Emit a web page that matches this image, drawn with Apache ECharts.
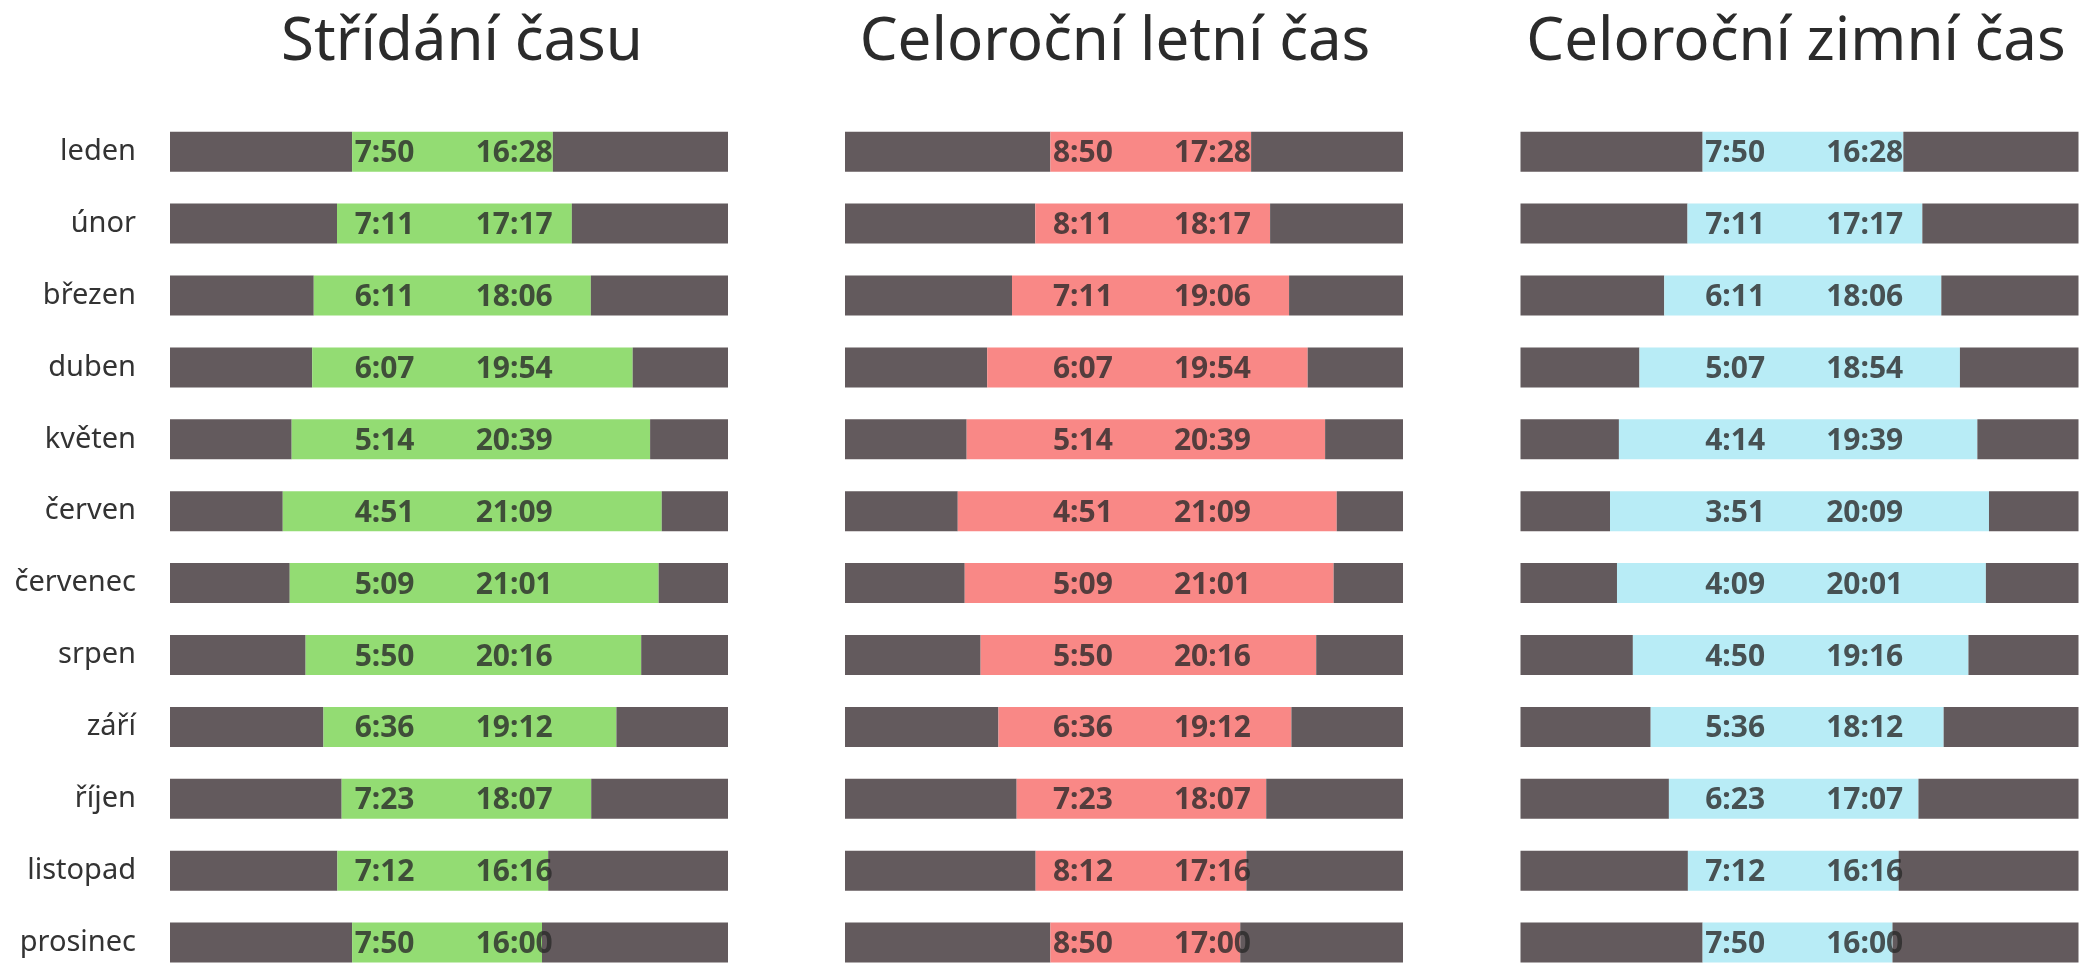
<!DOCTYPE html>
<html>
<head>
<meta charset="utf-8">
<title>Východ a západ slunce</title>
<script src="https://cdn.jsdelivr.net/npm/echarts@6/dist/echarts.min.js"></script>
<style>
    html, body { margin: 0; padding: 0; background: #fff; }
    #chart { width: 2080px; height: 964px; }
</style>
</head>
<body>
<div id="chart"></div>
<script>
// měsíce
const months = ['leden', 'únor', 'březen', 'duben', 'květen', 'červen',
    'červenec', 'srpen', 'září', 'říjen', 'listopad', 'prosinec']

const panelTitles = ['Střídání času', 'Celoroční letní čas', 'Celoroční zimní čas']

// střídání času
const stridaniRise = ['7:50', '7:11', '6:11', '6:07', '5:14', '4:51', '5:09', '5:50', '6:36', '7:23', '7:12', '7:50']
const stridaniSet = ['16:28', '17:17', '18:06', '19:54', '20:39', '21:09', '21:01', '20:16', '19:12', '18:07', '16:16', '16:00']

// celoroční letní čas
const letniRise = ['8:50', '8:11', '7:11', '6:07', '5:14', '4:51', '5:09', '5:50', '6:36', '7:23', '8:12', '8:50']
const letniSet = ['17:28', '18:17', '19:06', '19:54', '20:39', '21:09', '21:01', '20:16', '19:12', '18:07', '17:16', '17:00']

// celoroční zimní čas
const zimniRise = ['7:50', '7:11', '6:11', '5:07', '4:14', '3:51', '4:09', '4:50', '5:36', '6:23', '7:12', '7:50']
const zimniSet = ['16:28', '17:17', '18:06', '18:54', '19:39', '20:09', '20:01', '19:16', '18:12', '17:07', '16:16', '16:00']

const panelColors = ['#93dc73', '#f98886', '#b8ecf6']
const nightColor = '#635a5d'

const panels = [
    { rise: stridaniRise, set: stridaniSet },
    { rise: letniRise, set: letniSet },
    { rise: zimniRise, set: zimniSet }
]

const toHours = (s) => {
    const [h, m] = s.split(':').map(Number)
    return h + m / 60
}

const gridLeft = [170, 845, 1520.5]
const gridWidth = 558
const titleCenter = [457, 1110, 1791]

const grids = []
const xAxes = []
const yAxes = []
const series = []
const titles = []

panels.forEach((p, k) => {
    const rise = p.rise.map(toHours)
    const set = p.set.map(toHours)
    const anchor = Math.max(...rise)

    grids.push({ left: gridLeft[k], width: gridWidth, top: 115.75, height: 862.8, outerBoundsMode: 'none' })
    xAxes.push({
        type: 'value', gridIndex: k, min: 0, max: 24,
        show: false
    })
    yAxes.push({
        type: 'category', gridIndex: k, data: months, inverse: true,
        axisLine: { show: false },
        axisTick: { show: false },
        splitLine: { show: false },
        axisLabel: {
            show: k === 0,
            margin: 34,
            fontSize: 29,
            color: '#333',
            fontFamily: 'Noto Sans',
            padding: [5, 0, 0, 0]
        }
    })

    const common = {
        type: 'bar', xAxisIndex: k, yAxisIndex: k, stack: 'den' + k,
        barWidth: 40, silent: true
    }
    series.push({ ...common, name: 'noc ráno', data: rise, itemStyle: { color: nightColor } })
    series.push({ ...common, name: 'den', data: set.map((v, i) => v - rise[i]), itemStyle: { color: panelColors[k] } })
    series.push({ ...common, name: 'noc večer', data: set.map(v => 24 - v), itemStyle: { color: nightColor } })

    // popisky časů
    series.push({
        type: 'scatter', xAxisIndex: k, yAxisIndex: k,
        symbolSize: 1, silent: true,
        itemStyle: { color: 'transparent' },
        data: months.map((m, i) => [anchor, i]),
        label: {
            show: true,
            position: 'right',
            distance: 2,
            padding: [4, 0, 0, 0],
            formatter: (params) => `{r|${p.rise[params.dataIndex]}}{s|${p.set[params.dataIndex]}}`,
            rich: {
                r: { width: 121, fontSize: 30, fontWeight: 'bold', color: '#2b2b2b', fontFamily: 'Noto Sans' },
                s: { fontSize: 30, fontWeight: 'bold', color: '#2b2b2b', fontFamily: 'Noto Sans' }
            }
        }
    })

    titles.push({
        text: panelTitles[k],
        left: titleCenter[k],
        top: 8,
        textAlign: 'center',
        textStyle: {
            fontSize: 60,
            fontWeight: 'normal',
            color: '#2b2b2b',
            fontFamily: 'Noto Sans'
        }
    })
})

const myChart = echarts.init(document.getElementById('chart'))
myChart.setOption({
    animation: false,
    title: titles,
    grid: grids,
    xAxis: xAxes,
    yAxis: yAxes,
    series: series
})
</script>
</body>
</html>
